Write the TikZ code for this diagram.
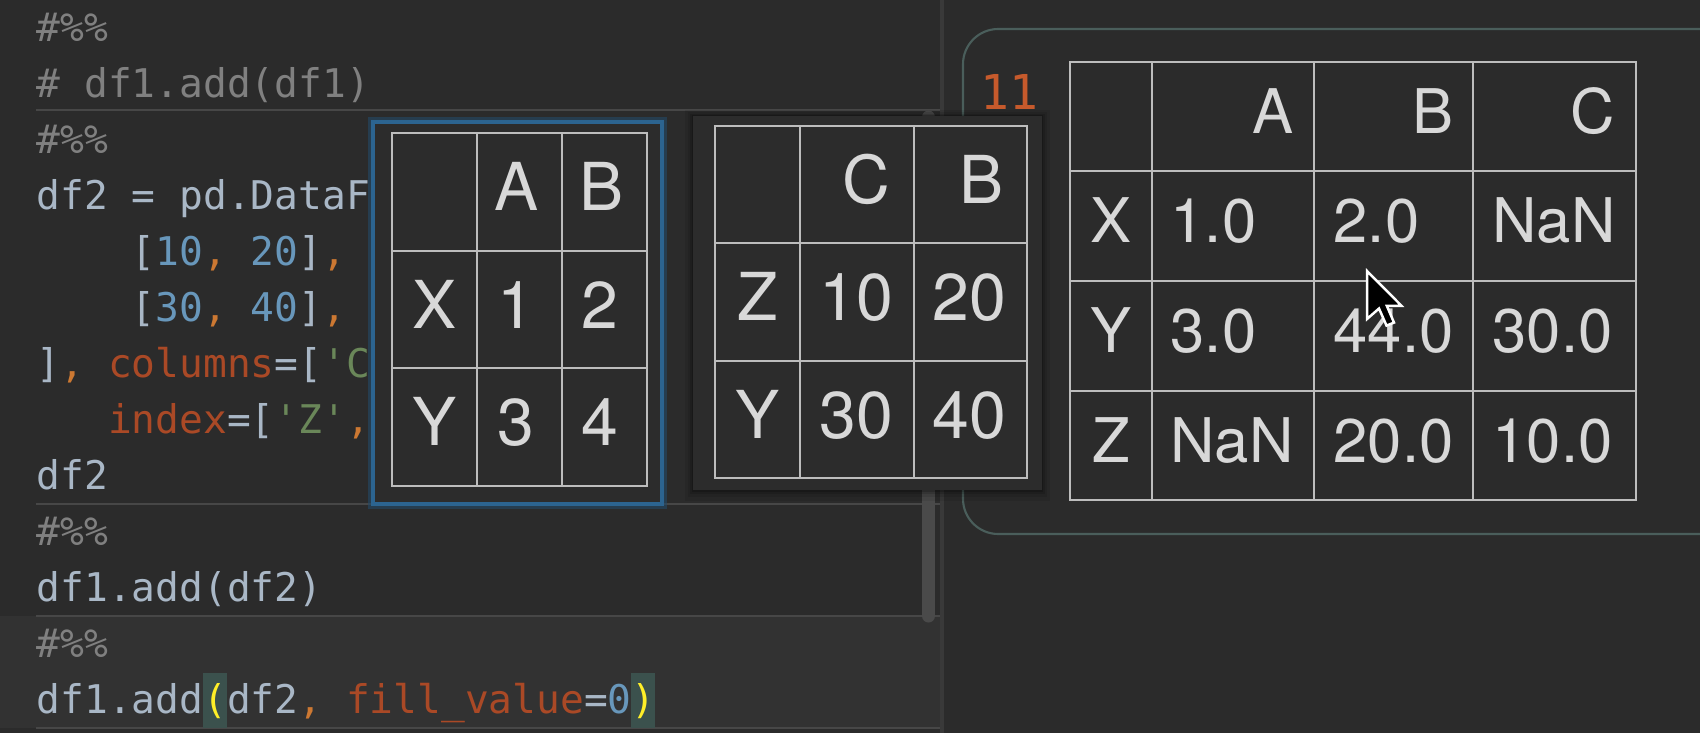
\documentclass[tikz,border=0pt]{standalone}
\usepackage{fontspec}
\setmainfont{TeX Gyre Heros}
\newfontfamily\codefont{DejaVu Sans Mono}
\definecolor{bg}{HTML}{2B2B2B}
\definecolor{cellbg}{HTML}{323232}
\definecolor{sepc}{HTML}{474747}
\definecolor{divc}{HTML}{393939}
\definecolor{scrollc}{HTML}{4A4A4A}
\definecolor{cmt}{HTML}{808080}
\definecolor{cdef}{HTML}{A9B7C6}
\definecolor{cnum}{HTML}{6897BB}
\definecolor{ccomma}{HTML}{CC7832}
\definecolor{ckw}{HTML}{AA4926}
\definecolor{cstr}{HTML}{6A8759}
\definecolor{cparen}{HTML}{FFEF28}
\definecolor{hlc}{HTML}{3B514D}
\definecolor{outc}{HTML}{C65A2C}
\definecolor{boxc}{HTML}{4A5E5B}
\definecolor{gridc}{HTML}{BDBDBD}
\definecolor{celltext}{HTML}{D8D8D8}
\definecolor{blueb}{HTML}{2C6490}
\definecolor{blueglow}{HTML}{234A68}
\definecolor{popbg}{HTML}{2C2C2C}
\begin{document}
\begin{tikzpicture}[x=0.01cm,y=-0.01cm,
  code/.style={anchor=base west, inner sep=0pt, font=\codefont\fontsize{11.24pt}{13pt}\selectfont, text=cdef},
  cellA/.style={inner sep=0pt, font=\fontsize{18.8pt}{22pt}\selectfont, text=celltext},
  hdA/.style={cellA, anchor=base east},
  dvA/.style={cellA, anchor=base west},
  ixA/.style={cellA, anchor=base},
  cellB/.style={inner sep=0pt, font=\fontsize{17.5pt}{21pt}\selectfont, text=celltext},
  hdB/.style={cellB, anchor=base east},
  dvB/.style={cellB, anchor=base west},
  ixB/.style={cellB, anchor=base},
  gridline/.style={draw=gridc, line width=0.6pt},
  sepline/.style={draw=sepc, line width=0.45pt}
]
\useasboundingbox (0,0) rectangle (1700,733);
% backgrounds
\fill[bg] (0,0) rectangle (1700,733);
\fill[cellbg] (0,616) rectangle (940,728);
% separators
\draw[sepline] (36,110) -- (940,110);
\draw[sepline] (36,504) -- (940,504);
\draw[sepline] (36,616) -- (940,616);
\draw[sepline] (36,728) -- (940,728);
% divider
\draw[divc, line width=1.1pt] (942,0) -- (942,733);
% scrollbar
\draw[scrollc, line width=13*0.2845pt, line cap=round] (928.5,117) -- (928.5,616);
% paren highlights
\fill[hlc] (203,673) rectangle (227,728);
\fill[hlc] (631,673) rectangle (655,728);
% code lines
\node[code] (l1) at (36,41) {\color{cmt}\#\%\%};
\node[code] (l2) at (36,97) {\color{cmt}\# df1.add(df1)};
\node[code] (l3) at (36,153) {\color{cmt}\#\%\%};
\node[code] (l4) at (36,209) {df2 = pd.DataF};
\node[code] (l5) at (131.2,265) {[\textcolor{cnum}{10}\textcolor{ccomma}{,} \textcolor{cnum}{20}]\textcolor{ccomma}{,}};
\node[code] (l6) at (131.2,321) {[\textcolor{cnum}{30}\textcolor{ccomma}{,} \textcolor{cnum}{40}]\textcolor{ccomma}{,}};
\node[code] (l7) at (36,377) {]\textcolor{ccomma}{,} \textcolor{ckw}{columns}=[\textcolor{cstr}{\textquotesingle C}};
\node[code] (l8) at (107.4,433) {\textcolor{ckw}{index}=[\textcolor{cstr}{\textquotesingle Z\textquotesingle}\textcolor{ccomma}{,}};
\node[code] (l9) at (36,489) {df2};
\node[code] (l10) at (36,545) {\color{cmt}\#\%\%};
\node[code] (l11) at (36,601) {df1.add(df2)};
\node[code] (l12) at (36,657) {\color{cmt}\#\%\%};
\node[code] (l13) at (36,713) {df1.add\textcolor{cparen}{(}df2\textcolor{ccomma}{,} \textcolor{ckw}{fill\_value}=\textcolor{cnum}{0}\textcolor{cparen}{)}};
% right output box
\draw[boxc, line width=0.6pt, rounded corners=10] (1700,29) -- (963,29) -- (963,534) -- (1700,534);
\node[code, font=\codefont\fontsize{13.66pt}{16pt}\selectfont, text=outc] (cnt) at (980,109) {11};
% popup 1 (df1)
\draw[blueglow, line width=2.6pt, opacity=0.6] (373,122) rectangle (662,504);
\fill[popbg] (373,122) rectangle (662,504);
\draw[blueb, line width=0.9pt] (373,122) rectangle (662,504);
\draw[gridline] (392,133) rectangle (647,486);
\draw[gridline] (477,133) -- (477,486) (562,133) -- (562,486) (392,251) -- (647,251) (392,368) -- (647,368);
\node[hdA] (t1hA) at (539,210) {A};
\node[hdA] (t1hB) at (624,210) {B};
\node[ixA] (t1iX) at (434.5,328) {X};
\node[ixA] (t1iY) at (434.5,445) {Y};
\node[dvA] (t1xA) at (497,328) {1};
\node[dvA] (t1xB) at (581,328) {2};
\node[dvA] (t1yA) at (497,445) {3};
\node[dvA] (t1yB) at (581,445) {4};
% popup 2 (df2) with soft shadow
\fill[black, opacity=0.08] (685,110) rectangle (1050,501);
\fill[black, opacity=0.10] (688,112) rectangle (1047,497);
\fill[black, opacity=0.14] (690,114) rectangle (1045,494);
\fill[black, opacity=0.18] (692,115) rectangle (1043,492);
\fill[popbg] (693,116) rectangle (1042,490);
\draw[gridline] (715,126) rectangle (1027,478);
\draw[gridline] (800,126) -- (800,478) (914,126) -- (914,478) (715,243) -- (1027,243) (715,361) -- (1027,361);
\node[hdA] (t2hC) at (891,203) {C};
\node[hdA] (t2hB) at (1004,203) {B};
\node[ixA] (t2iZ) at (757.5,320) {Z};
\node[ixA] (t2iY) at (757.5,438) {Y};
\node[dvA] (t2zC) at (819,320) {10};
\node[dvA] (t2zB) at (932,320) {20};
\node[dvA] (t2yC) at (819,438) {30};
\node[dvA] (t2yB) at (932,438) {40};
% result table
\draw[gridline] (1070,62) rectangle (1636,500);
\draw[gridline] (1152,62) -- (1152,500) (1314,62) -- (1314,500) (1473,62) -- (1473,500)
  (1070,171) -- (1636,171) (1070,281) -- (1636,281) (1070,391) -- (1636,391);
\node[hdB] (t3hA) at (1294,133.5) {A};
\node[hdB] (t3hB) at (1454,133.5) {B};
\node[hdB] (t3hC) at (1616,133.5) {C};
\node[ixB] (t3iX) at (1111,242.5) {X};
\node[ixB] (t3iY) at (1111,352.5) {Y};
\node[ixB] (t3iZ) at (1111,462.5) {Z};
\node[dvB] (t3xA) at (1170,242.5) {1.0};
\node[dvB] (t3xB) at (1333,242.5) {2.0};
\node[dvB] (t3xC) at (1492,242.5) {NaN};
\node[dvB] (t3yA) at (1170,352.5) {3.0};
\node[dvB] (t3yB) at (1333,352.5) {44.0};
\node[dvB] (t3yC) at (1492,352.5) {30.0};
\node[dvB] (t3zA) at (1170,462.5) {NaN};
\node[dvB] (t3zB) at (1333,462.5) {20.0};
\node[dvB] (t3zC) at (1492,462.5) {10.0};
% mouse cursor
\filldraw[fill=black, draw=white, line width=0.7pt, line join=miter]
  (1367,271) -- (1367,319) -- (1379,308.5) -- (1386.5,325.6) -- (1394,322.6) -- (1386.8,305.8) -- (1401.5,305.8) -- cycle;
\end{tikzpicture}
\end{document}
